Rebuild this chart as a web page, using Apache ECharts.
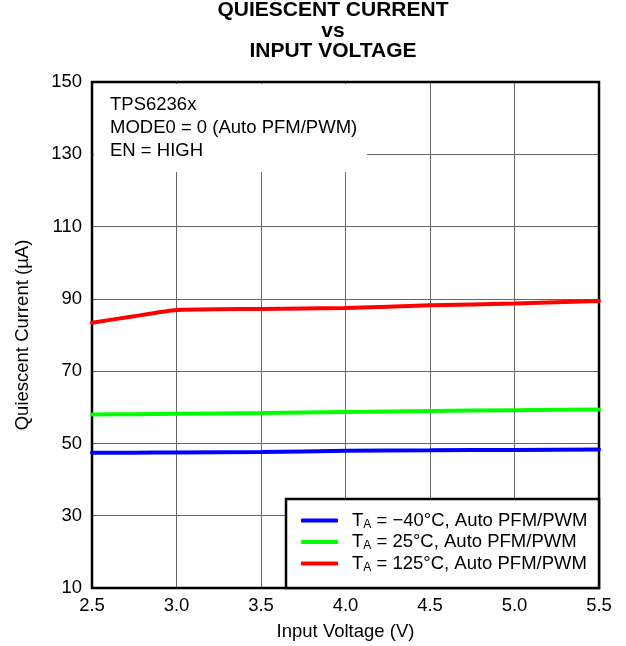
<!DOCTYPE html>
<html>
<head>
<meta charset="utf-8">
<script src="https://cdn.jsdelivr.net/npm/echarts@6/dist/echarts.min.js"></script>
<style>
html,body{margin:0;padding:0;background:#fff;}
#c{width:626px;height:646px;}
</style>
</head>
<body>
<div id="c"></div>
<script>
// ---- data ----
var vin = [2.5, 2.75, 3.0, 3.5, 4.0, 4.5, 5.0, 5.5];
var iqMinus40 = [47.4, 47.45, 47.5, 47.6, 48.0, 48.1, 48.2, 48.3];
var iq25 = [58.0, 58.1, 58.2, 58.4, 58.7, 59.0, 59.2, 59.4];
var iq125 = [83.4, 85.2, 86.9, 87.2, 87.5, 88.2, 88.7, 89.4];
var seriesNames = ['T_A = \u221240\u00B0C, Auto PFM/PWM', 'T_A = 25\u00B0C, Auto PFM/PWM', 'T_A = 125\u00B0C, Auto PFM/PWM'];
var seriesColors = ['#0000ff', '#00ff00', '#ff0000'];
var xTicks = [2.5, 3.0, 3.5, 4.0, 4.5, 5.0, 5.5];
var yTicks = [10, 30, 50, 70, 90, 110, 130, 150];
var titleLines = ['QUIESCENT CURRENT', 'vs', 'INPUT VOLTAGE'];
var noteLines = ['TPS6236x', 'MODE0 = 0 (Auto PFM/PWM)', 'EN = HIGH'];
var xName = 'Input Voltage (V)';
var yName = 'Quiescent Current (\u00B5A)';

function pairs(xs, ys){ return xs.map(function(x,i){ return [x, ys[i]]; }); }

var FONT = '"Liberation Sans", Arial, sans-serif';
var FS = 18.5;
var chart = echarts.init(document.getElementById('c'), null, {renderer:'canvas'});

var allSeries = [iqMinus40, iq25, iq125].map(function(d, i){
  return {
    name: seriesNames[i], type: 'line', data: pairs(vin, d),
    symbol: 'none', showSymbol: false, smooth: 0.15,
    lineStyle: {color: seriesColors[i], width: 4, cap: 'round'},
    itemStyle: {color: seriesColors[i]},
    z: 5
  };
});

var option = {
  backgroundColor: '#fff',
  animation: false,
  title: {
    text: titleLines.join('\n'),
    left: 333, top: 0, textAlign: 'center', padding: 0,
    textStyle: {fontFamily: FONT, fontWeight: 'bold', fontSize: 21, lineHeight: 20.5, color: '#000'}
  },
  grid: {left: 92, right: 27, top: 82, bottom: 58, show: true, borderColor: '#000', borderWidth: 2.5, backgroundColor: 'transparent', z: 3},
  xAxis: {
    type: 'value', min: 2.5, max: 5.5, interval: 0.5,
    name: xName, nameLocation: 'middle', nameGap: 34,
    nameTextStyle: {fontFamily: FONT, fontSize: FS, color: '#000'},
    axisLine: {show: false}, axisTick: {show: false},
    axisLabel: {fontFamily: FONT, fontSize: FS, color: '#000', margin: 8,
      formatter: function(v){ return xTicks.indexOf(v) >= 0 ? v.toFixed(1) : ''; }},
    splitLine: {show: true, lineStyle: {color: '#666', width: 1}}
  },
  yAxis: {
    type: 'value', min: 10, max: 150, interval: 10,
    name: yName, nameLocation: 'middle', nameGap: 60,
    nameTextStyle: {fontFamily: FONT, fontSize: FS, color: '#000'},
    axisLine: {show: false}, axisTick: {show: false},
    axisLabel: {fontFamily: FONT, fontSize: FS, color: '#000', margin: 10,
      formatter: function(v){ return yTicks.indexOf(v) >= 0 ? String(v) : ''; }},
    splitLine: {show: true, lineStyle: {color: ['#666', 'rgba(0,0,0,0)'], width: 1}}
  },
  legend: {
    orient: 'vertical', left: 301, top: 511, padding: 0,
    itemWidth: 37, itemHeight: 4, itemGap: 2, selectedMode: false, z: 30,
    icon: 'roundRect',
    data: seriesNames,
    formatter: function(name){ return '{t|T}{s|A}{t|' + name.slice(3) + '}'; },
    textStyle: {
      padding: [0, 0, 0, 9],
      rich: {
        t: {fontFamily: FONT, fontSize: FS, color: '#000', lineHeight: 20},
        s: {fontFamily: FONT, fontSize: 12, color: '#000', lineHeight: 10, verticalAlign: 'bottom'}
      }
    }
  },
  graphic: [
    {type: 'rect', z: 20, shape: {x: 94, y: 84, width: 273, height: 88}, style: {fill: '#fff'}},
    {type: 'text', z: 21, x: 110, y: 105, style: {text: noteLines[0], font: FS + 'px ' + FONT, fill: '#000', verticalAlign: 'middle'}},
    {type: 'text', z: 21, x: 110, y: 128, style: {text: noteLines[1], font: FS + 'px ' + FONT, fill: '#000', verticalAlign: 'middle'}},
    {type: 'text', z: 21, x: 110, y: 151, style: {text: noteLines[2], font: FS + 'px ' + FONT, fill: '#000', verticalAlign: 'middle'}},
    {type: 'rect', z: 20, shape: {x: 286, y: 499, width: 313, height: 89}, style: {fill: '#fff', stroke: '#000', lineWidth: 2.5}}
  ],
  series: allSeries
};
chart.setOption(option);
</script>
</body>
</html>
